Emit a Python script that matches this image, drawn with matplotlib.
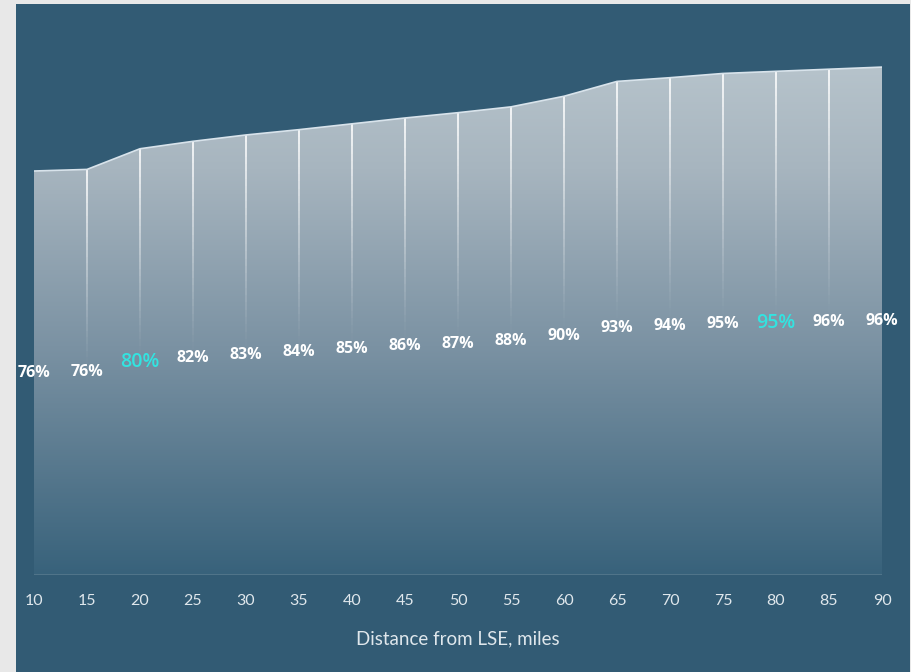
import matplotlib.pyplot as plt
import numpy as np
from matplotlib.colors import LinearSegmentedColormap
from matplotlib.patches import Polygon
from matplotlib.collections import LineCollection

# Distance (miles) and share reached (%)
distance = [10, 15, 20, 25, 30, 35, 40, 45, 50, 55, 60, 65, 70, 75, 80, 85, 90]
share = [76.2, 76.5, 80.4, 81.8, 83.0, 84.0, 85.1, 86.2, 87.2, 88.3, 90.3,
         93.1, 93.8, 94.6, 95.0, 95.4, 95.8]
share_labels = ['76%', '76%', '80%', '82%', '83%', '84%', '85%', '86%', '87%',
                '88%', '90%', '93%', '94%', '95%', '95%', '96%', '96%']
highlight = ['20', '80']

panel_color = '#325b74'
text_color = '#dfe7ec'

fig = plt.figure(figsize=(9.12, 6.72), dpi=100)
fig.patch.set_facecolor('#e8e8e8')

# dark panel behind the chart
bg = fig.add_axes([16 / 912, 0, (910 - 16) / 912, 668 / 672], zorder=-1)
bg.set_facecolor(panel_color)
bg.set_xticks([])
bg.set_yticks([])
for s in bg.spines.values():
    s.set_visible(False)

ax = fig.add_axes([34 / 912, 97 / 672, (882 - 34) / 912, (575 - 4) / 672])
ax.set_facecolor('none')
ymax = 107.7
ax.set_xlim(10, 90)
ax.set_ylim(0, ymax)

# gradient-filled area
cmap = LinearSegmentedColormap.from_list(
    'area', [(0.0, '#38627b'), (0.45, '#7b92a3'), (0.8, '#a7b5bf'), (1.0, '#b6c3cb')])
grad = np.linspace(0, 1, 256).reshape(-1, 1)
top = max(share)
im = ax.imshow(grad, extent=[10, 90, 0, top], origin='lower', aspect='auto',
               cmap=cmap, zorder=1)
poly = Polygon(list(zip(distance, share)) + [(90, 0), (10, 0)], closed=True,
               facecolor='none', edgecolor='none')
ax.add_patch(poly)
im.set_clip_path(poly)

# light outline on top of the area
ax.plot(distance, share, color='#d8e3eb', lw=1.2, zorder=3)

# fading white verticals at each interior distance
segs, cols = [], []
for x, v in zip(distance[1:-1], share[1:-1]):
    ys = np.linspace(v, v * 0.52, 30)
    for i in range(len(ys) - 1):
        segs.append([(x, ys[i]), (x, ys[i + 1])])
        a = 0.9 * (1 - i / (len(ys) - 1)) ** 1.2
        cols.append((1, 1, 1, a))
ax.add_collection(LineCollection(segs, colors=cols, linewidths=1.3, zorder=2))

# baseline
ax.axhline(0, color='#56788d', lw=1.2, zorder=2)

# value labels at half height
for x, v, lab in zip(distance, share, share_labels):
    if str(x) in highlight:
        ax.text(x, v / 2, lab, ha='center', va='center', color='#33e3e0',
                fontsize=14, fontweight='semibold', fontfamily='Open Sans', zorder=4)
    else:
        ax.text(x, v / 2, lab, ha='center', va='center', color='white',
                fontsize=11.5, fontweight='bold', fontfamily='Open Sans', zorder=4)

ax.set_xticks(distance)
ax.set_xticklabels([str(d) for d in distance], fontsize=11.5, color=text_color,
                   fontfamily='Lato')
ax.tick_params(axis='x', length=0, pad=14)
ax.set_yticks([])
for s in ax.spines.values():
    s.set_visible(False)
ax.set_xlabel('Distance from LSE, miles', fontsize=13.5, color=text_color,
              fontfamily='Lato', labelpad=16)

fig.savefig('out.png', dpi=100, facecolor=fig.get_facecolor())
